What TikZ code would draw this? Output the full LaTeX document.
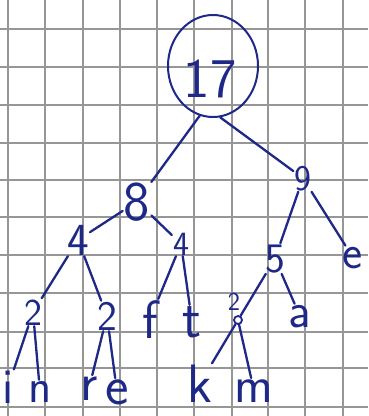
\documentclass[tikz,border=0pt]{standalone}
\usepackage{fontspec}
\usetikzlibrary{shapes.geometric}
\definecolor{ink}{RGB}{30,40,135}
\definecolor{gridc}{RGB}{150,150,150}
\begin{document}
\begin{tikzpicture}[x=1pt,y=-1pt,
  lab/.style={text=ink, font=\sffamily\fontsize{#1}{#1}\selectfont, inner sep=1pt, anchor=base},
  lab/.default=34,
  edge/.style={draw=ink, line width=2.3pt, line cap=round},
  gridline/.style={draw=gridc, line width=1.1pt}]
\useasboundingbox[fill=white] (0,0) rectangle (368,416);
\foreach \x in {8,45,83,120,157,194,232,268,305,343} \draw[gridline] (\x,0) -- (\x,416);
\foreach \y in {29,67,105,143,180,217,255,293,332,368,407} \draw[gridline] (0,\y) -- (368,\y);

% nodes
\node[ellipse, draw=ink, line width=2pt, minimum width=90pt, minimum height=102pt, inner sep=0] (n17) at (213,66) {};
\node[lab=56] (t17) at (210,97) {17};
\node[lab=56] (n8) at (137,220) {8};
\node[lab=36] (n9) at (303,190) {9};
\node[lab=46] (n4a) at (78,255) {4};
\node[lab=34] (n4b) at (181,255) {4};
\node[lab=42] (n5) at (275,272) {5};
\node[lab=48] (le1) at (353,268) {e};
\node[lab=38] (n2a) at (33,325) {2};
\node[lab=42] (n2b) at (107,330) {2};
\node[lab=54] (lf) at (150,338) {f};
\node[lab=56] (lt) at (192,337) {t};
\node[lab=26] (t2c) at (234,310) {2};
\node[circle, draw=ink, line width=1.8pt, minimum size=8pt, inner sep=0] (n2c) at (238,320) {};
\node[lab=50] (la) at (300,327) {a};
\node[lab=50] (li) at (8,403) {i};
\node[lab=48] (ln) at (40,402) {n};
\node[lab=54] (lr) at (89,400) {r};
\node[lab=56] (le2) at (117,404) {e};
\node[lab=54] (lk) at (200,402) {k};
\node[lab=52] (lm) at (254,402) {m};

% edges
\draw[edge] (n17.-105) -- (n8);
\draw[edge] (n17.-82) -- (n9);
\draw[edge] (n8) -- (n4a);
\draw[edge] (n8) -- (n4b);
\draw[edge] (n9) -- (n5);
\draw[edge] (n9) -- (le1);
\draw[edge] (n4a) -- (n2a);
\draw[edge] (n4a) -- (n2b);
\draw[edge] (n4b) -- (lf);
\draw[edge] (n4b) -- (lt);
\draw[edge] (n5) -- (n2c);
\draw[edge] (n5) -- (la);
\draw[edge] (n2a) -- (li);
\draw[edge] (n2a) -- (ln);
\draw[edge] (n2b) -- (lr);
\draw[edge] (n2b) -- (le2);
\draw[edge] (n2c) -- (lk);
\draw[edge] (n2c) -- (lm);
\end{tikzpicture}
\end{document}
